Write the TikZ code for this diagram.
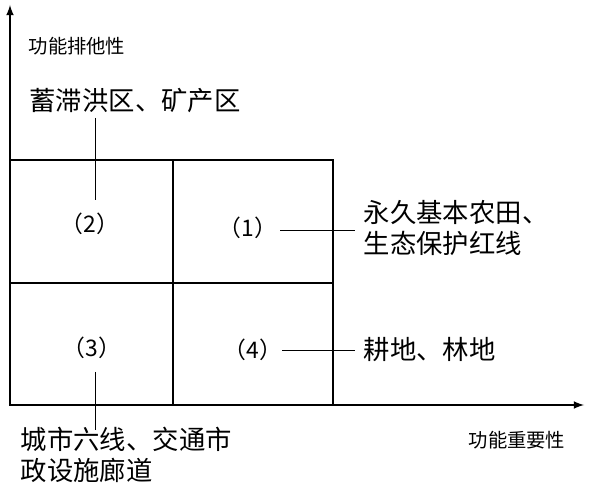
\documentclass[tikz,border=0pt]{standalone}
\usepackage{fontspec}
\setmainfont{Noto Sans CJK SC}
\usetikzlibrary{positioning}
\tikzset{lbl/.style={font=\fontsize{15}{17.5}\selectfont,align=left,inner sep=0pt},
  axlbl/.style={font=\fontsize{11}{14}\selectfont,inner sep=0pt},
  num/.style={font=\fontsize{13}{15}\selectfont,inner sep=0pt},
  lead/.style={draw,line width=0.5pt}}
\begin{document}
\begin{tikzpicture}[x=0.02cm,y=-0.02cm,line width=1pt]
\useasboundingbox (0,0) rectangle (602,496);
% axes
\coordinate (O) at (10,405);
\coordinate (ytop) at (10,5);
\coordinate (xend) at (584,405);
\draw[-latex] (O) -- (ytop);
\draw[-latex] (O) -- (xend);
% quadrants
\draw (10,160) rectangle (333,405);
\draw[line width=0.6pt] (173,160) -- (173,405);
\draw[line width=0.6pt] (10,283) -- (333,283);
\node[axlbl] (ya) at (77,46) {功能排他性};
\node[axlbl] (xa) at (517,440) {功能重要性};
% numbers
\node[num] (q1) at (248,228) {（1）};
\node[num] (q2) at (90,224) {（2）};
\node[num] (q3) at (92,348) {（3）};
\node[num] (q4) at (253,350) {（4）};
% labels
\node[lbl] (t2) at (135,101) {蓄滞洪区、矿产区};
\node[lbl,anchor=west] (t1) at (363,228) {永久基本农田、\\生态保护红线};
\node[lbl,anchor=west] (t4) at (363,350) {耕地、林地};
\node[lbl,anchor=west] (t3) at (20,455) {城市六线、交通市\\政设施廊道};
% leaders
\coordinate (c2) at (95,200);
\coordinate (c3) at (95,372);
\coordinate (c3b) at (95,430);
\draw[lead] (95,118) -- (c2);
\draw[lead] (280,230) -- (355,230);
\draw[lead] (282,350) -- (355,350);
\draw[lead] (c3) -- (c3b);
\end{tikzpicture}
\end{document}
